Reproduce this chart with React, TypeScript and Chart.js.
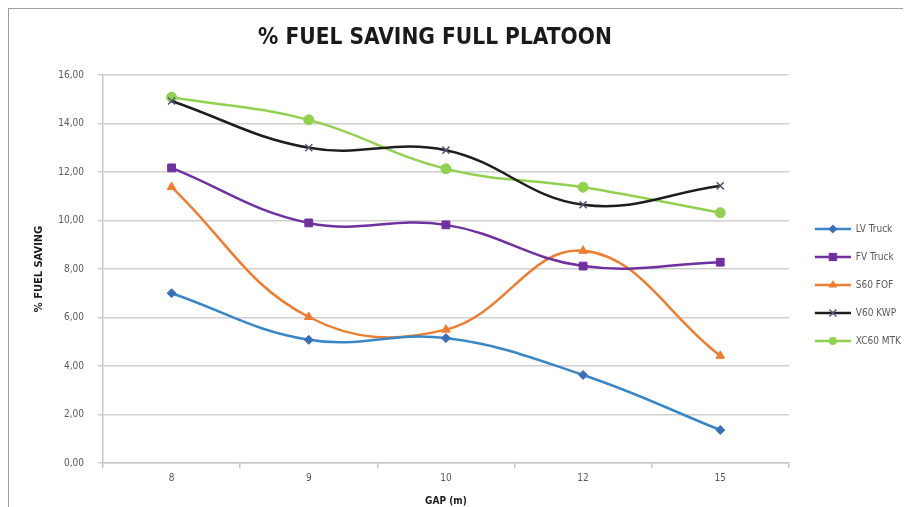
import React, { useEffect, useRef } from 'react';
import { Chart, registerables } from 'chart.js';

Chart.register(...registerables);

const categories = ['8', '9', '10', '12', '15'];
const seriesNames = ['LV Truck', 'FV Truck', 'S60 FOF', 'V60 KWP', 'XC60 MTK'];
const lvTruck = [7.0, 5.08, 5.15, 3.63, 1.36];
const fvTruck = [12.17, 9.9, 9.82, 8.12, 8.28];
const s60Fof = [11.38, 6.02, 5.5, 8.75, 4.42];
const v60Kwp = [14.93, 13.0, 12.9, 10.65, 11.43];
const xc60Mtk = [15.08, 14.15, 12.13, 11.37, 10.32];

const lineColors = ['#3a87c7', '#7030a0', '#ed7d31', '#1e1e1e', '#92d050'];
const markerColors = ['#3a6fb5', '#7030a0', '#ed7d31', '#55557a', '#92d050'];
const markerShapes = ['rectRot', 'rect', 'triangle', 'crossRot', 'circle'];
const markerRadii = [4.5, 5.5, 5, 5, 5];

const FONT_NARROW = "'Liberation Sans Narrow', 'DejaVu Sans Condensed', 'Liberation Sans', sans-serif";

function legendIcon(lineColor: string, markerColor: string, shape: string, r: number) {
  const c = document.createElement('canvas');
  c.width = 44;
  c.height = 14;
  const ctx = c.getContext('2d')!;
  ctx.strokeStyle = lineColor;
  ctx.lineWidth = 2.5;
  ctx.beginPath();
  ctx.moveTo(8, 7);
  ctx.lineTo(44, 7);
  ctx.stroke();
  const cx = 26;
  const cy = 7;
  ctx.fillStyle = markerColor;
  ctx.strokeStyle = markerColor;
  ctx.lineWidth = 1.5;
  ctx.beginPath();
  if (shape === 'rectRot') {
    ctx.moveTo(cx, cy - r);
    ctx.lineTo(cx + r, cy);
    ctx.lineTo(cx, cy + r);
    ctx.lineTo(cx - r, cy);
    ctx.closePath();
    ctx.fill();
  } else if (shape === 'rect') {
    const s = r * 0.75;
    ctx.rect(cx - s, cy - s, 2 * s, 2 * s);
    ctx.fill();
  } else if (shape === 'triangle') {
    ctx.moveTo(cx, cy - r);
    ctx.lineTo(cx + r * 0.87, cy + r * 0.5);
    ctx.lineTo(cx - r * 0.87, cy + r * 0.5);
    ctx.closePath();
    ctx.fill();
  } else if (shape === 'crossRot') {
    const s = r * 0.7;
    ctx.moveTo(cx - s, cy - s);
    ctx.lineTo(cx + s, cy + s);
    ctx.moveTo(cx + s, cy - s);
    ctx.lineTo(cx - s, cy + s);
    ctx.stroke();
  } else {
    ctx.arc(cx, cy, r * 0.8, 0, Math.PI * 2);
    ctx.fill();
  }
  return c;
}

const shiftTitle = {
  id: 'shiftTitle',
  afterLayout(chart: any) {
    if (chart.titleBlock) {
      chart.titleBlock.right -= 50;
    }
  },
};

export default function App() {
  const ref = useRef<HTMLCanvasElement | null>(null);

  useEffect(() => {
    document.documentElement.style.overflow = 'hidden';
    document.body.style.overflow = 'hidden';
    const canvas = ref.current;
    if (!canvas) return;
    const allData = [lvTruck, fvTruck, s60Fof, v60Kwp, xc60Mtk];
    const icons = seriesNames.map((_, i) =>
      legendIcon(lineColors[i], markerColors[i], markerShapes[i], markerRadii[i])
    );
    const chart = new Chart(canvas, {
      type: 'line',
      data: {
        labels: categories,
        datasets: seriesNames.map((name, i) => ({
          label: name,
          data: allData[i],
          borderColor: lineColors[i],
          backgroundColor: lineColors[i],
          borderWidth: 2.5,
          tension: 0.4,
          fill: false,
          pointStyle: markerShapes[i] as any,
          pointRadius: markerRadii[i],
          pointBackgroundColor: markerColors[i],
          pointBorderColor: markerColors[i],
          pointBorderWidth: markerShapes[i] === 'crossRot' ? 1.5 : 1,
        })),
      },
      plugins: [shiftTitle],
      options: {
        animation: false,
        responsive: false,
        maintainAspectRatio: false,
        layout: { padding: { left: 0, right: 0, top: 0, bottom: 0 } },
        plugins: {
          title: {
            display: true,
            text: '% FUEL SAVING FULL PLATOON',
            color: '#1a1a1a',
            font: { family: FONT_NARROW, size: 22.5, weight: 'bold', lineHeight: 1.2 },
            padding: { top: 16, bottom: 23 },
          },
          legend: {
            position: 'right',
            title: {
              display: true,
              text: '',
              padding: 0,
              font: { size: 45, lineHeight: 1.2 },
            },
            labels: {
              usePointStyle: true,
              pointStyleWidth: 44,
              padding: 18,
              color: '#595959',
              font: { family: FONT_NARROW, size: 10 },
              generateLabels: (ch: any) => {
                const items = (Chart.defaults.plugins.legend.labels as any).generateLabels(ch);
                return items.map((it: any, i: number) => ({ ...it, pointStyle: icons[i] }));
              },
            },
          },
          tooltip: { enabled: false },
        },
        scales: {
          x: {
            offset: true,
            afterFit: (scale: any) => {
              scale.height = 44;
            },
            grid: {
              offset: true,
              drawOnChartArea: false,
              drawTicks: true,
              tickLength: 5,
              color: '#c8c8c8',
              lineWidth: 1.5,
            },
            border: { color: '#c8c8c8', width: 1.5 },
            ticks: {
              color: '#595959',
              padding: 4,
              font: { family: FONT_NARROW, size: 10 },
            },
            title: {
              display: true,
              text: 'GAP (m)',
              color: '#1a1a1a',
              font: { family: FONT_NARROW, size: 10, weight: 'bold', lineHeight: 1.2 },
              padding: { top: 1, bottom: 0 },
            },
          },
          y: {
            min: 0,
            max: 16,
            afterFit: (scale: any) => {
              scale.width = 94;
            },
            grid: {
              color: '#d0d0d0',
              lineWidth: 1.5,
              drawTicks: true,
              tickLength: 5,
            },
            border: { color: '#c8c8c8', width: 1.5 },
            ticks: {
              stepSize: 2,
              color: '#595959',
              padding: 14,
              font: { family: FONT_NARROW, size: 10 },
              callback: (v: any) => Number(v).toFixed(2).replace('.', ','),
            },
            title: {
              display: true,
              text: '% FUEL SAVING',
              color: '#1a1a1a',
              font: { family: FONT_NARROW, size: 11, weight: 'bold', lineHeight: 1.2 },
              padding: { top: 24, bottom: 0 },
            },
          },
        },
      },
    });
    return () => chart.destroy();
  }, []);

  return (
    <div
      style={{
        width: 902,
        height: 498,
        borderLeft: '1px solid #a0a0a0',
        borderTop: '1px solid #a0a0a0',
        background: '#fff',
        overflow: 'hidden',
      }}
    >
      <canvas ref={ref} width={902} height={498} style={{ display: 'block' }} />
    </div>
  );
}
